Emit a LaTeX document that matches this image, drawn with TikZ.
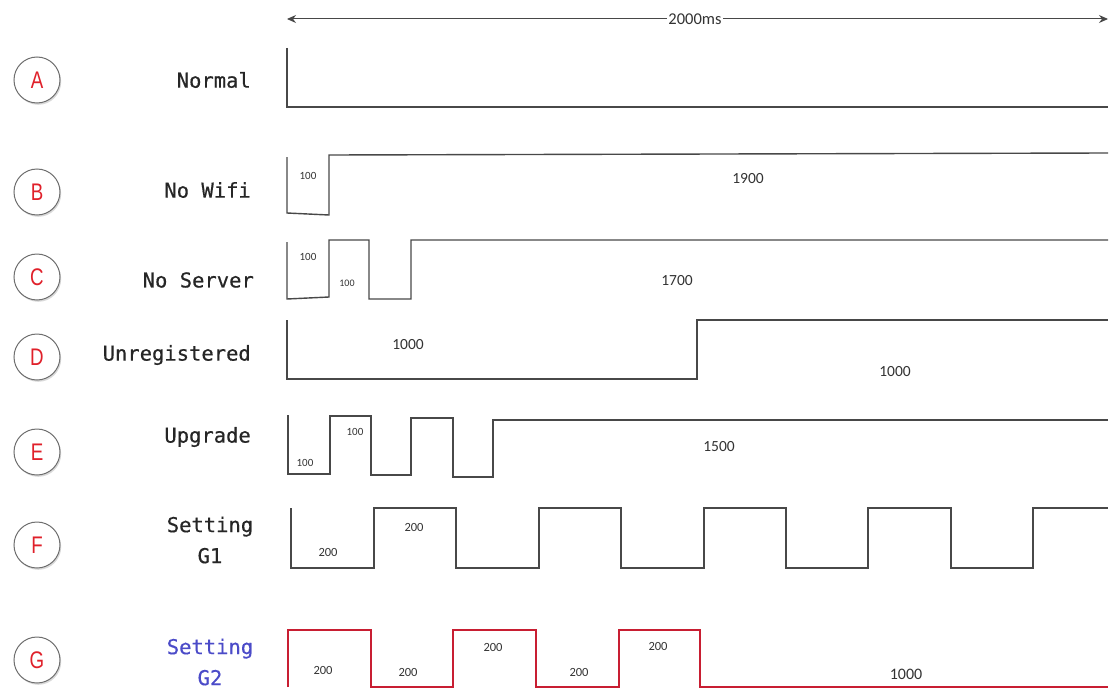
\documentclass[tikz,border=0pt]{standalone}
\usepackage{fontspec}
\setmainfont{Carlito}
\newfontfamily\monof[FakeBold=0.5]{DejaVu Sans Mono}
\newfontfamily\letf{Liberation Sans}
\usetikzlibrary{arrows.meta,shadows}
\definecolor{sig}{HTML}{484848}
\definecolor{redsig}{HTML}{C81E32}
\definecolor{lettr}{HTML}{E0202A}
\definecolor{blu}{HTML}{4B4BC8}
\definecolor{numc}{HTML}{333333}
\definecolor{circd}{HTML}{6E6E6E}
\begin{document}
\begin{tikzpicture}[x=1pt,y=-1pt,
  sigline/.style={draw=sig,line width=1.4pt,line join=miter},
  redline/.style={draw=redsig,line width=1.4pt,line join=miter},
  badge/.style={circle,draw=circd,line width=1pt,fill=white,minimum size=46pt,inner sep=0pt,
    text=lettr,font=\letf\fontsize{24}{24}\selectfont,
    drop shadow={opacity=0.3,shadow xshift=1.2pt,shadow yshift=-1.8pt}},
  lbl/.style={anchor=east,inner sep=0pt,font=\monof\fontsize{20.5}{31}\selectfont,text=black!85},
  lblc/.style={anchor=center,align=center,inner sep=0pt,font=\monof\fontsize{20.5}{31}\selectfont,text=black!85},
  small/.style={inner sep=0pt,text=numc,font=\fontsize{11}{11}\selectfont},
  mid/.style={inner sep=0pt,text=numc,font=\fontsize{12.5}{12.5}\selectfont},
  big/.style={inner sep=0pt,text=numc,font=\fontsize{15.5}{15.5}\selectfont},
  dimarrow/.style={draw=sig,line width=1pt,{Stealth[length=9pt,width=8pt]}-{Stealth[length=9pt,width=8pt]}}
]
\useasboundingbox (0,0) rectangle (1110,693);

% time axis
\coordinate (ts) at (287,19);
\coordinate (te) at (1108,19);
\draw[dimarrow] (ts) -- (te);
\node[inner sep=1pt,fill=white,text=numc,font=\fontsize{16.5}{16.5}\selectfont] (tl) at (695,19) {2000ms};

% badges
\node[badge] (bA) at (37,80) {\scalebox{0.78}[1]{A}};
\node[badge] (bB) at (37,192) {\scalebox{0.78}[1]{B}};
\node[badge] (bC) at (37,277) {\scalebox{0.78}[1]{C}};
\node[badge] (bD) at (37,357) {\scalebox{0.78}[1]{D}};
\node[badge] (bE) at (37,452) {\scalebox{0.78}[1]{E}};
\node[badge] (bF) at (37,545) {\scalebox{0.78}[1]{F}};
\node[badge] (bG) at (37,660) {\scalebox{0.78}[1]{G}};

% row labels
\node[lbl] (lA) at (251,80) {Normal};
\node[lbl] (lB) at (251,190) {No Wifi};
\node[lbl] (lC) at (254,280) {No Server};
\node[lbl] (lD) at (251,355) {Unregistered};
\node[lbl] (lE) at (251,437) {Upgrade};
\node[lblc] (lF) at (210,540) {Setting\\G1};
\node[lblc,text=blu] (lG) at (210,662) {Setting\\G2};

% A
\draw[sigline] (287,48) -- (287,107) -- (1108,107);
% B
\draw[sigline] (287,157) -- (287,213) -- (329,215) -- (329,155) -- (1108,153);
\node[small] (nB1) at (308,176) {100};
\node[big] (nB2) at (748,179) {1900};
% C
\draw[sigline] (287,242) -- (287,299) -- (329,297) -- (329,240) -- (369,240) -- (369,299)
  -- (411,299) -- (411,240) -- (1108,240);
\node[small] (nC1) at (308,257) {100};
\node[small,font=\fontsize{10}{10}\selectfont] (nC2) at (347,283) {100};
\node[big] (nC3) at (677,281) {1700};
% D
\draw[sigline] (287,320) -- (287,379) -- (697,379) -- (697,320) -- (1108,320);
\node[big] (nD1) at (408,345) {1000};
\node[big] (nD2) at (895,372) {1000};
% E
\draw[sigline] (288,415) -- (288,474) -- (330,474) -- (330,416) -- (371,416) -- (371,475)
  -- (411,475) -- (411,418) -- (453,418) -- (453,477) -- (493,477) -- (493,420) -- (1108,420);
\node[small] (nE1) at (305,463) {100};
\node[small] (nE2) at (355,432) {100};
\node[big] (nE3) at (719,447) {1500};
% F
\draw[sigline] (291,508) -- (291,568) -- (374,568) -- (374,508) -- (456,508) -- (456,568)
  -- (539,568) -- (539,508) -- (621,508) -- (621,568) -- (704,568) -- (704,508)
  -- (786,508) -- (786,568) -- (868,568) -- (868,508) -- (951,508) -- (951,568)
  -- (1033,568) -- (1033,508) -- (1108,508);
\node[mid] (nF1) at (328,552) {200};
\node[mid] (nF2) at (414,527) {200};
% G
\draw[redline] (288,687) -- (288,630) -- (371,630) -- (371,687) -- (453,687) -- (453,630)
  -- (536,630) -- (536,687) -- (619,687) -- (619,630) -- (700,630) -- (700,687) -- (1108,687);
\node[mid] (nG1) at (323,670) {200};
\node[mid] (nG2) at (408,672) {200};
\node[mid] (nG3) at (493,647) {200};
\node[mid] (nG4) at (579,672) {200};
\node[mid] (nG5) at (658,646) {200};
\node[big,font=\fontsize{16}{16}\selectfont] (nG6) at (906,674) {1000};
\end{tikzpicture}
\end{document}
